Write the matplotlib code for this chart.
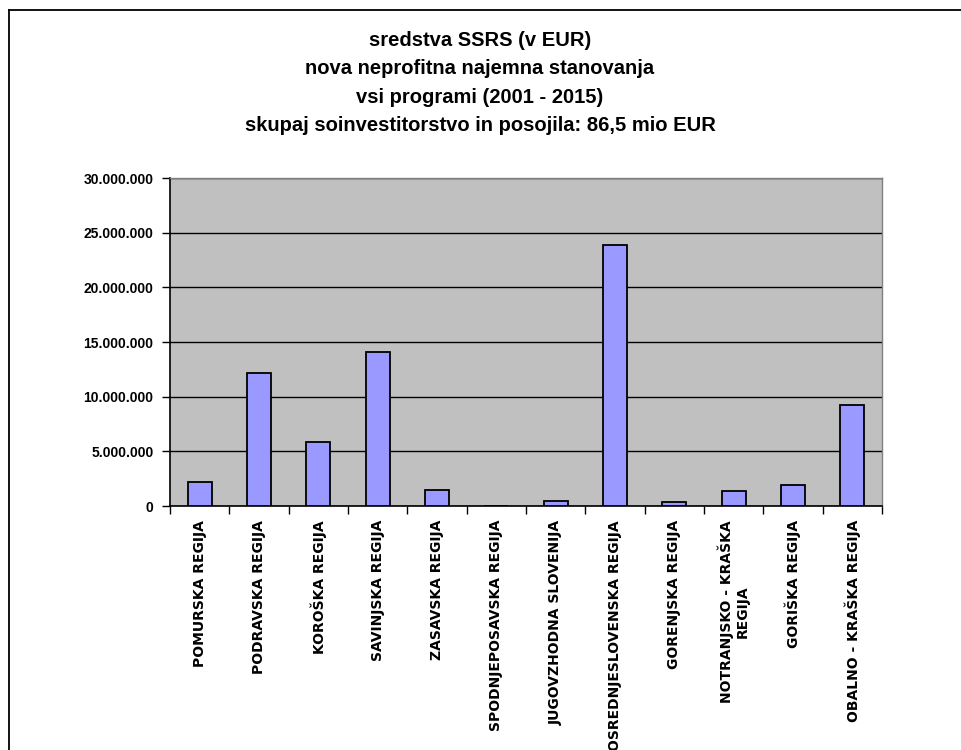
import matplotlib.pyplot as plt
from matplotlib import font_manager
from matplotlib.lines import Line2D
from matplotlib.ticker import FuncFormatter, FixedLocator

regions = [
    "POMURSKA REGIJA",
    "PODRAVSKA REGIJA",
    "KOROŠKA REGIJA",
    "SAVINJSKA REGIJA",
    "ZASAVSKA REGIJA",
    "SPODNJEPOSAVSKA REGIJA",
    "JUGOVZHODNA SLOVENIJA",
    "OSREDNJESLOVENSKA REGIJA",
    "GORENJSKA REGIJA",
    "NOTRANJSKO - KRAŠKA\nREGIJA",
    "GORIŠKA REGIJA",
    "OBALNO - KRAŠKA REGIJA",
]
sredstva = [
    2_220_000, 12_170_000, 5_850_000, 14_100_000, 1_460_000, 0,
    460_000, 23_900_000, 400_000, 1_400_000, 1_920_000, 9_240_000,
]
title = ("sredstva SSRS (v EUR)\n"
         "nova neprofitna najemna stanovanja\n"
         "vsi programi (2001 - 2015)\n"
         "skupaj soinvestitorstvo in posojila: 86,5 mio EUR")

names = {f.name for f in font_manager.fontManager.ttflist}
narrow = "DejaVu Sans Condensed" if "DejaVu Sans Condensed" in names else "Liberation Sans"

plt.rcParams["font.family"] = ["DejaVu Sans"]

W, H = 961, 750
fig = plt.figure(figsize=(W / 100, H / 100), dpi=100)
fig.patch.set_facecolor("white")

# frame lines (left and top)
fig.add_artist(Line2D([9 / W, 9 / W], [0, 1 - 10 / H], color="black", lw=1.3,
                      transform=fig.transFigure))
fig.add_artist(Line2D([9 / W, 1], [1 - 10 / H, 1 - 10 / H], color="black", lw=1.3,
                      transform=fig.transFigure))

fig.text(480 / W, 1 - 83 / H, title, ha="center", va="center", fontsize=14.5,
         fontweight="bold", linespacing=1.62, family=narrow)

x0, x1, y0, y1 = 170, 882, 178, 506
ax = fig.add_axes([x0 / W, 1 - y1 / H, (x1 - x0) / W, (y1 - y0) / H])
ax.set_facecolor("#C0C0C0")

xs = list(range(len(regions)))
ax.bar(xs, sredstva, width=0.4, color="#9999FF", edgecolor="black", lw=1.3, zorder=3)

ax.set_xlim(-0.5, len(regions) - 0.5)
ax.set_ylim(0, 30_000_000)
ax.set_yticks(range(0, 30_000_001, 5_000_000))
ax.yaxis.set_major_formatter(FuncFormatter(lambda v, p: f"{int(v):,}".replace(",", ".")))
ax.grid(axis="y", color="black", lw=1.0, zorder=1)
ax.set_axisbelow(True)

ax.xaxis.set_major_locator(FixedLocator([i - 0.5 for i in range(len(regions) + 1)]))
ax.xaxis.set_major_formatter(FuncFormatter(lambda v, p: ""))
ax.set_xticks(xs, minor=True)
ax.set_xticklabels(regions, minor=True, rotation=90, fontsize=10, fontweight="bold",
                   va="top", ha="center", multialignment="center")
ax.tick_params(axis="x", which="minor", length=0, pad=10)
ax.tick_params(axis="x", which="major", length=6, width=1, direction="out", color="black")
ax.tick_params(axis="y", length=6, width=1, direction="out", labelsize=10, pad=6)
for lab in ax.get_yticklabels():
    lab.set_fontweight("bold")
    lab.set_family(narrow)

for side in ["top", "right"]:
    ax.spines[side].set_color("#808080")
    ax.spines[side].set_linewidth(1.0)
for side in ["left", "bottom"]:
    ax.spines[side].set_color("black")
    ax.spines[side].set_linewidth(1.2)

fig.savefig("out.png", dpi=100)
